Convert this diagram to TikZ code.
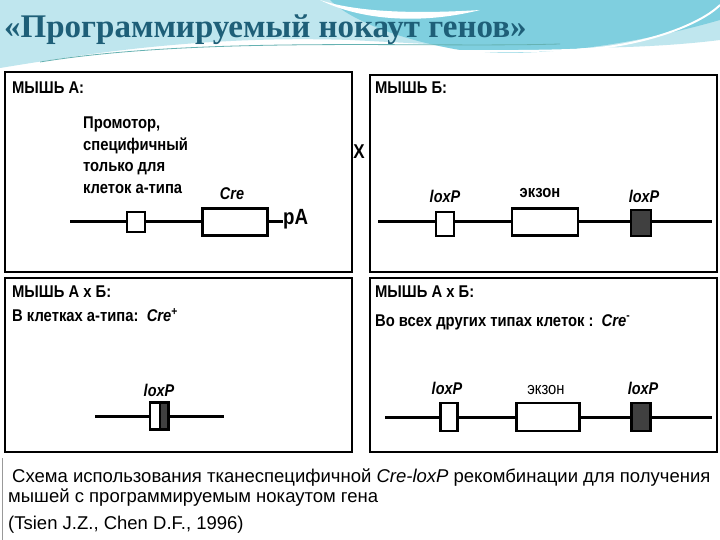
\documentclass[tikz,border=0pt]{standalone}
\usepackage{fontspec}
\setmainfont{Liberation Sans}
\newfontfamily\titlefont{Liberation Serif}
\definecolor{ttl}{HTML}{1E5F78}
\definecolor{sky}{HTML}{BFE6EE}
\definecolor{sky2}{HTML}{7FCFDF}
\tikzset{
  panel/.style={draw=black, line width=2.4pt},
  lbl/.style={font=\bfseries\fontsize{17}{19}\selectfont, xscale=0.87, anchor=west, inner sep=0pt},
  gene/.style={draw=black, line width=2.6pt},
  dna/.style={draw=black, line width=3pt},
  hatch/.style={draw=black, line width=2.2pt, fill=black!75},
  tag/.style={font=\bfseries\itshape\fontsize{17}{19}\selectfont, xscale=0.85, inner sep=0pt},
  captxt/.style={font=\fontsize{18.5}{21}\selectfont, anchor=west, inner sep=0pt}
}
\begin{document}
\begin{tikzpicture}[x=1pt,y=-1pt]
\useasboundingbox (0,0) rectangle (720,540);
\fill[white] (0,0) rectangle (720,540);
% header
\fill[sky] (0,0) -- (720,0) -- (720,40) .. controls (600,55) and (450,45) .. (350,40) .. controls (200,35) and (80,55) .. (0,68) -- cycle;
\fill[sky2] (330,0) -- (720,0) -- (720,20) .. controls (650,40) and (550,60) .. (460,50) .. controls (400,40) and (350,20) .. (330,0);
\fill[white] (320,0) .. controls (350,10) and (400,15) .. (480,10) .. controls (420,25) and (360,20) .. (320,0);
\draw[white, line width=2pt] (30,66) .. controls (200,40) and (420,55) .. (570,50) .. controls (640,48) and (700,25) .. (720,5);
\draw[teal!60, line width=0.8pt] (40,62) .. controls (200,36) and (420,48) .. (560,44);
\node[font=\titlefont\bfseries\fontsize{33}{36}\selectfont, text=ttl, anchor=west, inner sep=0pt] (title) at (4,30) {«Программируемый нокаут генов»};
% panels
\draw[panel] (5,72) rectangle (352,272);
\draw[panel] (370,75) rectangle (717,272);
\draw[panel] (5,278) rectangle (352,452);
\draw[panel] (370,278) rectangle (717,452);
% caption area
\draw[black!40, line width=1pt] (2,458) -- (2,540);
\node[captxt] (c1) at (12,478) {Схема использования тканеспецифичной \textit{Cre-loxP} рекомбинации для получения};
\node[captxt] (c2) at (8,498) {мышей с программируемым нокаутом гена};
\node[captxt] (c3) at (8,525) {(Tsien J.Z., Chen D.F., 1996)};
% TL
\node[lbl] (ta) at (12,88) {МЫШЬ А:};
\node[lbl, align=left, anchor=north west, font=\bfseries\fontsize{17}{21.5}\selectfont] (prom) at (83,117) {Промотор,\\специфичный\\только для\\клеток а-типа};
\node[tag] (cre) at (232,194) {Cre};
\coordinate (a0) at (70,222);
\node[gene, minimum width=18pt, minimum height=20pt, inner sep=0pt] (pr) at (136,222) {};
\node[gene, minimum width=65pt, minimum height=27pt, inner sep=0pt] (cb) at (235,222) {};
\node[font=\bfseries\fontsize{22}{24}\selectfont, xscale=0.85, anchor=west, inner sep=0pt] (pa) at (283,219) {pA};
\draw[dna] (a0) -- (pr.west) (pr.east) -- (cb.west) (cb.east) -- (pa.west |- cb.east);
\node[font=\bfseries\fontsize{20}{22}\selectfont, xscale=0.85, inner sep=0pt] (x) at (359,152) {X};
% TR
\node[lbl] (tb) at (375,88) {МЫШЬ Б:};
\coordinate (b0) at (378,222); \coordinate (b1) at (712,222);
\draw[dna] (b0) -- (b1);
\node[gene, fill=white, minimum width=18pt, minimum height=24pt, inner sep=0pt] (bl1) at (445,224) {};
\node[gene, fill=white, minimum width=66pt, minimum height=27pt, inner sep=0pt] (bex) at (545,222) {};
\node[hatch, minimum width=20pt, minimum height=26pt, inner sep=0pt] (bl2) at (641,223) {};
\node[tag] (tl1) at (445,196) {loxP};
\node[lbl, anchor=center] (tex) at (540,193) {экзон};
\node[tag] (tl2) at (644,196) {loxP};
% BL
\node[lbl] (ca) at (12,292) {МЫШЬ А х Б:};
\node[lbl] (cb2) at (12,315) {В клетках а-типа:\ \ \textit{Cre}\textsuperscript{+}};
\coordinate (c0) at (95,416); \coordinate (c1b) at (224,416);
\draw[dna] (c0) -- (c1b);
\node[hatch, minimum width=9pt, minimum height=27pt, inner sep=0pt] (ch) at (164,416) {};
\node[gene, fill=white, minimum width=10pt, minimum height=27pt, inner sep=0pt] (cw) at (155,416) {};
\node[tag] (cl) at (159,390) {loxP};
% BR
\node[lbl] (da) at (375,292) {МЫШЬ А х Б:};
\node[lbl] (db) at (375,322) {Во всех других типах клеток :\ \ \textit{Cre}\textsuperscript{-}};
\coordinate (d0) at (385,417); \coordinate (d1) at (712,417);
\draw[dna] (d0) -- (d1);
\node[gene, fill=white, minimum width=17pt, minimum height=28pt, inner sep=0pt] (dl1) at (449,417) {};
\node[gene, fill=white, minimum width=63pt, minimum height=28pt, inner sep=0pt] (dex) at (548,417) {};
\node[hatch, minimum width=19pt, minimum height=28pt, inner sep=0pt] (dl2) at (641,417) {};
\node[tag] (dt1) at (447,388) {loxP};
\node[lbl, anchor=center, font=\fontsize{17}{19}\selectfont] (dtex) at (546,390) {экзон};
\node[tag] (dt2) at (643,388) {loxP};
\end{tikzpicture}
\end{document}
